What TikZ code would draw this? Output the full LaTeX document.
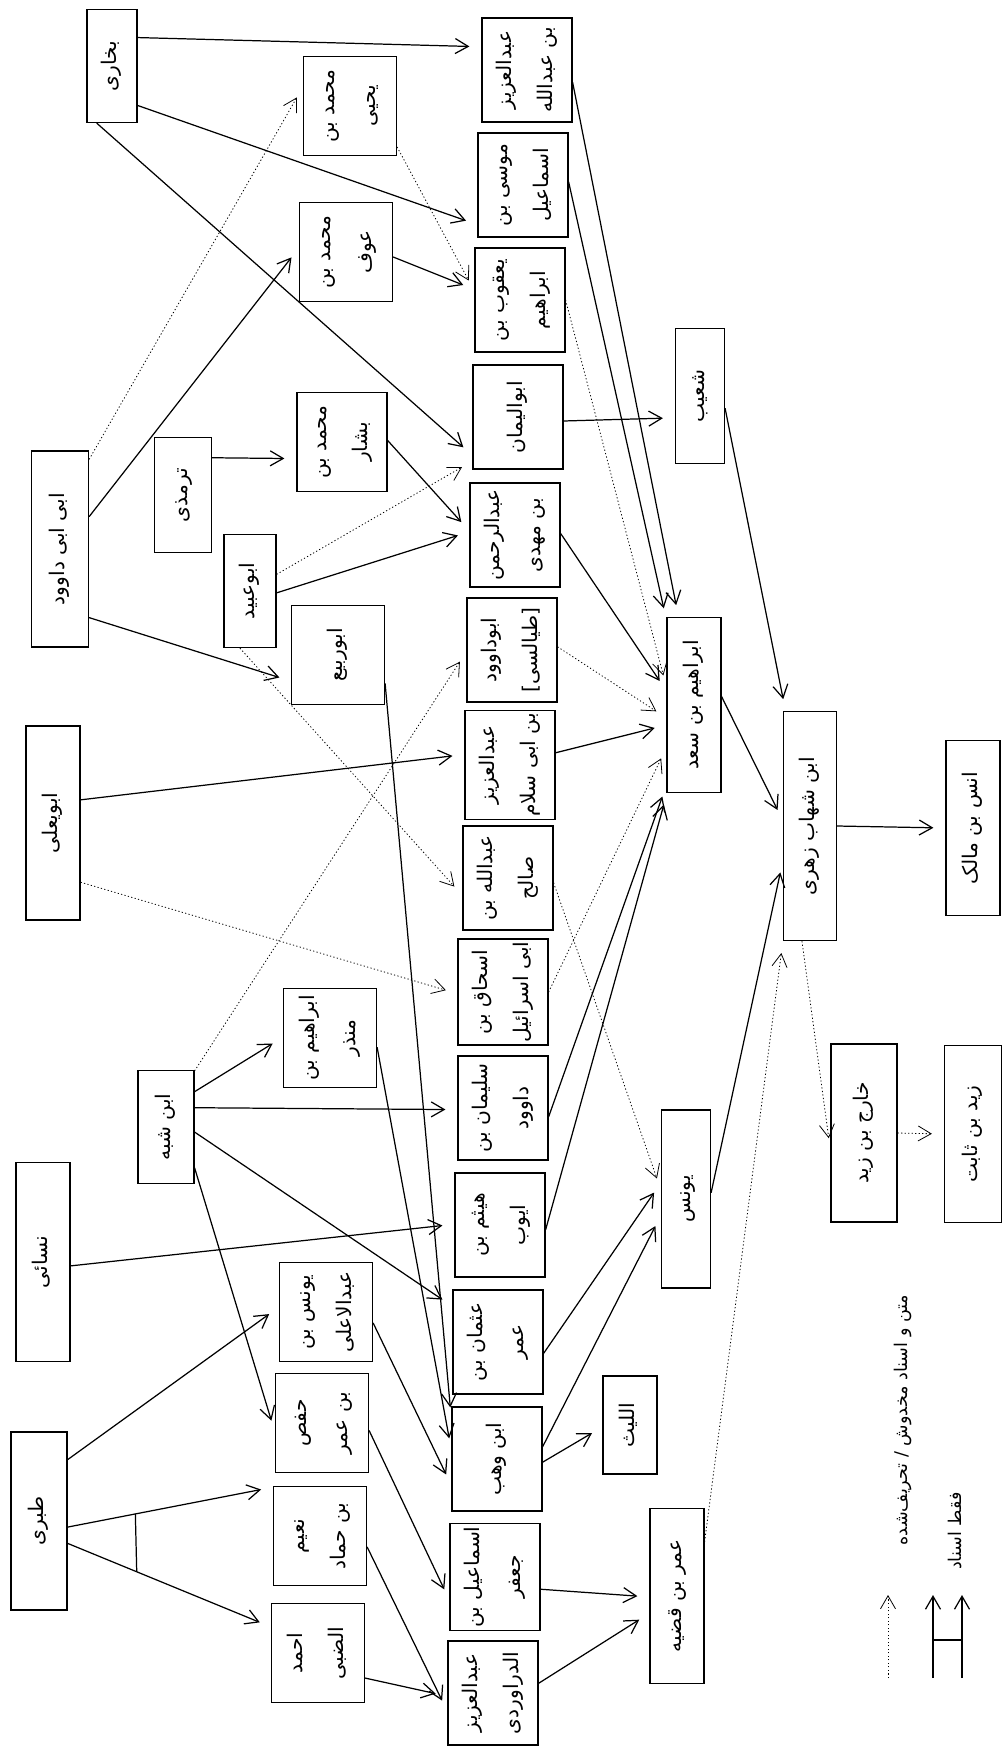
\documentclass[tikz,border=0pt]{standalone}
\usepackage{fontspec}
\usepackage{graphicx}
\usepackage{tikz}
\usetikzlibrary{arrows.meta}
\newfontfamily\persianfont[Script=Arabic]{DejaVu Sans}
\TeXXeTstate=1
\newcommand\vtext[1]{\rotatebox{90}{\begin{tabular}{@{}c@{}}#1\end{tabular}}}

\begin{document}
\begin{tikzpicture}[x=0.02cm, y=-0.02cm,
    box/.style={draw, line width=0.7pt, inner sep=1.5pt, font={\persianfont\fontsize{11.5}{14}\selectfont}},
    pair/.style={box, minimum width=1.8cm, minimum height=2.08cm},
    side/.style={box, minimum width=1.86cm, minimum height=1.97cm},
    slim/.style={box, minimum width=1.04cm, minimum height=2.26cm},
    long/.style={box, minimum width=1.08cm, minimum height=3.5cm},
    tip/.style={-{Straight Barb[length=2.6mm,width=3mm]}, line width=0.7pt},
    isnad/.style={tip, shorten >=2.4mm},
    weak/.style={isnad, line width=0.45pt, dash pattern=on 0.7pt off 1.3pt}]
    \useasboundingbox (0,0) rectangle (1003,1749);

    % Collectors
    \node[slim, minimum width=1cm] (bukhari) at (112,66) {\vtext{\beginR بخاری\endR}};
    \node[long, minimum width=1.14cm, minimum height=3.92cm] (ibnabidawud) at (60,549) {\vtext{\beginR ابی ابی داوود\endR}};
    \node[slim, minimum width=1.14cm, minimum height=2.3cm] (tirmidhi) at (183,495) {\vtext{\beginR ترمذی\endR}};
    \node[slim] (abuubayd) at (250,591) {\vtext{\beginR ابوعبید\endR}};
    \node[long, minimum height=3.88cm] (abuyala) at (53,823) {\vtext{\beginR ابویعلی\endR}};
    \node[slim, minimum width=1.12cm] (ibnshabba) at (166,1127) {\vtext{\beginR ابن شبه\endR}};
    \node[long, minimum height=3.98cm] (nasai) at (43,1262) {\vtext{\beginR نسائی\endR}};
    \node[long, minimum width=1.12cm, minimum height=3.56cm] (tabari) at (39,1521) {\vtext{\beginR طبری\endR}};

    % Their teachers
    \node[side] (myahya) at (350,106) {\vtext{\beginR محمد بن\endR\\[9pt]\beginR یحیی\endR}};
    \node[side] (mawf) at (346,252) {\vtext{\beginR محمد بن\endR\\[9pt]\beginR عوف\endR}};
    \node[side, minimum width=1.8cm] (mbashar) at (342,442) {\vtext{\beginR محمد بن\endR\\[9pt]\beginR بشار\endR}};
    \node[side] (aburabi) at (338,655) {\vtext{\beginR ابوربیع\endR}};
    \node[side] (mundhir) at (330,1038) {\vtext{\beginR ابراهیم بن\endR\\[9pt]\beginR منذر\endR}};
    \node[side] (yunusabd) at (326,1312) {\vtext{\beginR یونس بن\endR\\[9pt]\beginR عبدالاعلی\endR}};
    \node[side] (hafs) at (322,1423) {\vtext{\beginR حفص\endR\\[9pt]\beginR بن عمر\endR}};
    \node[side] (nuaym) at (320,1536) {\vtext{\beginR نعیم\endR\\[9pt]\beginR بن حماد\endR}};
    \node[side] (ahmad) at (318,1653) {\vtext{\beginR احمد\endR\\[9pt]\beginR الضبی\endR}};

    % Column of transmitters
    \node[pair] (abdaziz) at (527,70) {\vtext{\beginR عبدالعزیز\endR\\[9pt]\beginR بن عبدالله\endR}};
    \node[pair] (musa) at (523,185) {\vtext{\beginR موسی بن\endR\\[9pt]\beginR اسماعیل\endR}};
    \node[pair] (yaqub) at (520,300) {\vtext{\beginR یعقوب بن\endR\\[9pt]\beginR ابراهیم\endR}};
    \node[pair] (abuyaman) at (518,417) {\vtext{\beginR ابوالیمان\endR}};
    \node[pair] (abdrahman) at (515,535) {\vtext{\beginR عبدالرحمن\endR\\[9pt]\beginR بن مهدی\endR}};
    \node[pair] (tayalisi) at (512,650) {\vtext{\beginR ابوداوود\endR\\[9pt]\beginR [طیالسی]\endR}};
    \node[pair] (ibnabisalam) at (510,765) {\vtext{\beginR عبدالعزیز\endR\\[9pt]\beginR بن ابی سلام\endR}};
    \node[pair] (abdallah) at (508,878) {\vtext{\beginR عبدالله بن\endR\\[9pt]\beginR صالح\endR}};
    \node[pair] (ishaq) at (503,992) {\vtext{\beginR اسحاق بن\endR\\[9pt]\beginR ابی اسرائیل\endR}};
    \node[pair] (sulayman) at (503,1108) {\vtext{\beginR سلیمان بن\endR\\[9pt]\beginR داوود\endR}};
    \node[pair] (haytham) at (500,1225) {\vtext{\beginR هیثم بن\endR\\[9pt]\beginR ایوب\endR}};
    \node[pair] (uthman) at (498,1342) {\vtext{\beginR عثمان بن\endR\\[9pt]\beginR عمر\endR}};
    \node[pair] (ibnwahb) at (497,1459) {\vtext{\beginR ابن وهب\endR}};
    \node[pair] (ismail) at (495,1577) {\vtext{\beginR اسماعیل بن\endR\\[9pt]\beginR جعفر\endR}};
    \node[pair] (darawardi) at (493,1693) {\vtext{\beginR عبدالعزیز\endR\\[9pt]\beginR الدراوردی\endR}};

    % Common link and its students
    \node[slim, minimum width=0.98cm, minimum height=2.7cm] (shuayb) at (700,396) {\vtext{\beginR شعیب\endR}};
    \node[long] (ibrsad) at (694,705) {\vtext{\beginR ابراهیم بن سعد\endR}};
    \node[long, minimum width=0.98cm, minimum height=3.56cm] (yunus) at (686,1199) {\vtext{\beginR یونس\endR}};
    \node[slim, minimum width=1.08cm, minimum height=1.96cm] (layth) at (630,1425) {\vtext{\beginR اللیث\endR}};
    \node[long] (umar) at (677,1596) {\vtext{\beginR عمر بن قضیه\endR}};
    \node[long, minimum width=1.06cm, minimum height=4.58cm] (zuhri) at (810,826) {\vtext{\beginR ابن شهاب زهری\endR}};
    \node[long] (anas) at (973,828) {\vtext{\beginR انس بن مالک\endR}};
    \node[long, minimum width=1.32cm, minimum height=3.56cm] (kharij) at (864,1133) {\vtext{\beginR خارج بن زید\endR}};
    \node[long, minimum width=1.14cm, minimum height=3.54cm] (zayd) at (973,1134) {\vtext{\beginR زید بن ثابت\endR}};

    % Collectors to teachers
    \draw[isnad] (bukhari.48) -- (abdaziz.153);
    \draw[isnad] (bukhari.-57) -- (musa.221);
    \draw[isnad] (bukhari.255) -- (abuyaman.220);
    \draw[weak] (ibnabidawud.72) -- (myahya.158);
    \draw[isnad] (ibnabidawud.48) -- (mawf.175);
    \draw[isnad] (ibnabidawud.-67) -- (aburabi.209);
    \draw[isnad] (tirmidhi.52) -- (mbashar.200);
    \draw[isnad] (abuubayd.-4) -- (abdrahman.176);
    \draw[weak] (abuubayd.32) -- (abuyaman.224);
    \draw[weak] (abuubayd.260) -- (abdallah.201);
    \draw[weak] (ibnshabba.63) -- (tayalisi.182);
    \draw[weak] (abuyala.-65) -- (ishaq.182);
    \draw[isnad] (abuyala.40) -- (ibnabisalam.167);
    \draw[isnad] (ibnshabba.51) -- (mundhir.179);
    \draw[isnad] (ibnshabba.34) -- (sulayman.182);
    \draw[isnad] (ibnshabba.-10) -- (uthman.142);
    \draw[isnad] (ibnshabba.-55) -- (hafs.191);
    \draw[isnad] (nasai.-8) -- (haytham.179);
    \draw[isnad] (tabari.65) -- (yunusabd.174);
    \draw[isnad] (tabari.-12) -- coordinate[pos=0.33] (tbn) (nuaym.134);
    \draw[isnad] (tabari.-38) -- coordinate[pos=0.34] (tba) (ahmad.151);
    \draw[line width=0.7pt] (tbn) -- (tba);

    % Teachers to the column
    \draw[weak] (myahya.-41) -- (yaqub.169);
    \draw[isnad] (mawf.-6) -- (yaqub.167);
    \draw[isnad] (mbashar.2) -- (abdrahman.175);
    \draw[isnad] (aburabi.-31) -- (ibnwahb.139);
    \draw[isnad] (mundhir.-11) -- (ibnwahb.169);
    \draw[isnad] (yunusabd.-13) -- (ibnwahb.210);
    \draw[isnad] (hafs.-9) -- (ismail.207);
    \draw[isnad] (nuaym.-13) -- (darawardi.202);
    \draw[isnad] (ahmad.-28) -- (darawardi.184);

    % Column to Ibrahim b. Sa'd, Yunus and others
    \draw[isnad] (abdaziz.-15) -- (ibrsad.100);
    \draw[isnad] (musa.4) -- (ibrsad.108);
    \draw[weak] (yaqub.0) -- (ibrsad.147);
    \draw[isnad] (abuyaman.-5) -- (shuayb.221);
    \draw[isnad] (abdrahman.2) -- (ibrsad.153);
    \draw[weak] (tayalisi.4) -- (ibrsad.205);
    \draw[isnad] (ibnabisalam.15) -- (ibrsad.216);
    \draw[weak] (abdallah.-6) -- (yunus.160);
    \draw[weak] (ishaq.0) -- (ibrsad.237);
    \draw[isnad] (sulayman.-11) -- (ibrsad.251);
    \draw[isnad] (haytham.-6) -- (ibrsad.253);
    \draw[isnad] (uthman.-14) -- (yunus.147);
    \draw[isnad] (ibnwahb.15) -- (yunus.213);
    \draw[isnad] (ibnwahb.-4) -- (layth.184);
    \draw[isnad] (ismail.-15) -- (umar.182);
    \draw[isnad] (darawardi.12) -- (umar.212);

    % Up to Zuhri and beyond
    \draw[weak] (umar.63) -- (zuhri.south west);
    \draw[isnad] (yunus.14) -- (zuhri.232);
    \draw[isnad] (shuayb.-26) -- (zuhri.102);
    \draw[isnad] (ibrsad.17) -- (zuhri.169);
    \draw[isnad] (zuhri.east) -- (anas.west);
    \draw[weak] (zuhri.266) -- (kharij.207);
    \draw[weak] (kharij.east) -- (zayd.west);

    % Legend
    \node[font={\persianfont\fontsize{10}{12}\selectfont}] (lgweak) at (903,1420) {\vtext{\beginR متن و اسناد مخدوش / تحریف‌شده\endR}};
    \node[font={\persianfont\fontsize{10}{12}\selectfont}] (lgsole) at (957,1531) {\vtext{\beginR فقط اسناد\endR}};
    \coordinate (lw0) at (888,1678);
    \coordinate (lw1) at (888,1595);
    \coordinate (ls0) at (933,1678);
    \coordinate (ls1) at (933,1595);
    \coordinate (lsm) at (933,1640);
    \coordinate (lt0) at (962,1678);
    \coordinate (lt1) at (962,1595);
    \coordinate (ltm) at (962,1640);
    \draw[tip, line width=0.45pt, dash pattern=on 0.7pt off 1.3pt] (lw0) -- (lw1);
    \draw[tip] (ls0) -- (ls1);
    \draw[tip] (lt0) -- (lt1);
    \draw[line width=0.7pt] (lsm) -- (ltm);
\end{tikzpicture}
\end{document}
